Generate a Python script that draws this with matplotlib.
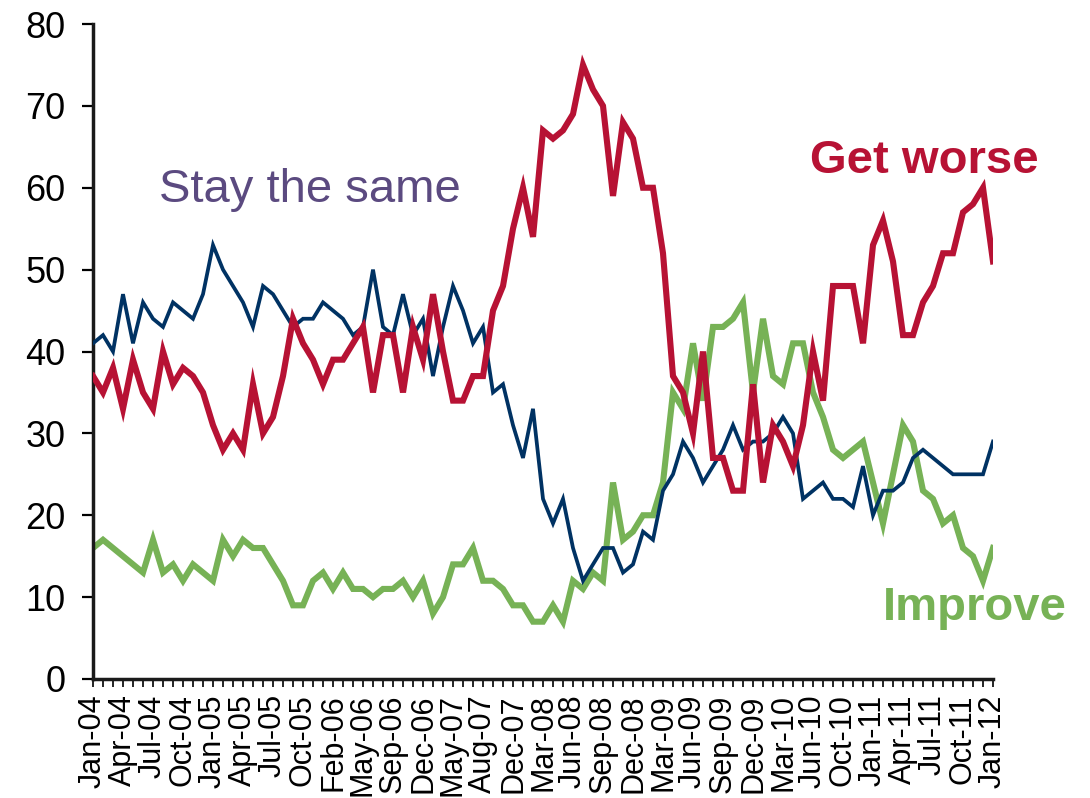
import numpy as np
import matplotlib
matplotlib.use("Agg")
import matplotlib.pyplot as plt
from matplotlib.ticker import FixedLocator, MultipleLocator

plt.rcParams['font.family'] = ['Liberation Sans', 'DejaVu Sans']

tick_labels = ["Jan-04", "Apr-04", "Jul-04", "Oct-04", "Jan-05", "Apr-05", "Jul-05",
               "Oct-05", "Feb-06", "May-06", "Sep-06", "Dec-06", "May-07", "Aug-07",
               "Dec-07", "Mar-08", "Jun-08", "Sep-08", "Dec-08", "Mar-09", "Jun-09",
               "Sep-09", "Dec-09", "Mar-10", "Jun-10", "Oct-10", "Jan-11", "Apr-11",
               "Jul-11", "Oct-11", "Jan-12"]

stay_the_same = [41, 42, 40, 47, 41, 46, 44, 43, 46, 45, 44, 47, 53, 50, 48, 46, 43, 48, 47, 45,
                 43, 44, 44, 46, 45, 44, 42, 43, 50, 43, 42, 47, 42, 44, 37, 43, 48, 45, 41, 43,
                 35, 36, 31, 27, 33, 22, 19, 22, 16, 12, 14, 16, 16, 13, 14, 18, 17, 23, 25, 29,
                 27, 24, 26, 28, 31, 28, 29, 29, 30, 32, 30, 22, 23, 24, 22, 22, 21, 26, 20, 23,
                 23, 24, 27, 28, 27, 26, 25, 25, 25, 25, 29]

get_worse = [37, 35, 38, 33, 39, 35, 33, 40, 36, 38, 37, 35, 31, 28, 30, 28, 36, 30, 32, 37,
             44, 41, 39, 36, 39, 39, 41, 43, 35, 42, 42, 35, 43, 39, 47, 40, 34, 34, 37, 37,
             45, 48, 55, 60, 54, 67, 66, 67, 69, 75, 72, 70, 59, 68, 66, 60, 60, 52, 37, 35,
             30, 40, 27, 27, 23, 23, 36, 24, 31, 29, 26, 31, 40, 34, 48, 48, 48, 41, 53, 56,
             51, 42, 42, 46, 48, 52, 52, 57, 58, 60, 51]

improve = [16, 17, 16, 15, 14, 13, 17, 13, 14, 12, 14, 13, 12, 17, 15, 17, 16, 16, 14, 12,
           9, 9, 12, 13, 11, 13, 11, 11, 10, 11, 11, 12, 10, 12, 8, 10, 14, 14, 16, 12,
           12, 11, 9, 9, 7, 7, 9, 7, 12, 11, 13, 12, 24, 17, 18, 20, 20, 24, 35, 33,
           41, 34, 43, 43, 44, 46, 35, 44, 37, 36, 41, 41, 35, 32, 28, 27, 28, 29, 24, 19,
           25, 31, 29, 23, 22, 19, 20, 16, 15, 12, 16]

c_blue = "#003263"
c_red = "#B71234"
c_green = "#77B256"
c_purple = "#5B4A80"

fig = plt.figure(figsize=(10.9, 7.98), dpi=100)
ax = fig.add_axes([93 / 1090, 1 - 679 / 798, 900 / 1090, 655 / 798])

x = np.arange(len(stay_the_same))
ax.plot(x, improve, color=c_green, lw=4.4, solid_joinstyle='miter', zorder=2)
ax.plot(x, stay_the_same, color=c_blue, lw=2.7, solid_joinstyle='miter', zorder=3)
ax.plot(x, get_worse, color=c_red, lw=4.4, solid_joinstyle='miter', zorder=4)

ax.set_xlim(0, len(x) - 1)
ax.set_ylim(0, 80)
ax.yaxis.set_major_locator(MultipleLocator(10))
ax.set_xticks(x[::3])
ax.set_xticklabels(tick_labels, rotation=90, fontsize=22, va='top')
ax.xaxis.set_minor_locator(FixedLocator(x))
ax.tick_params(axis='y', labelsize=26, direction='out', length=8, width=1.6, pad=12)
ax.tick_params(axis='x', which='both', direction='out', length=6, width=1.2, pad=5)

for side in ['top', 'right']:
    ax.spines[side].set_visible(False)
for side in ['left', 'bottom']:
    ax.spines[side].set_linewidth(2.5)
    ax.spines[side].set_color('#1a1a1a')

fig.text(310 / 1090, 1 - 190 / 798, "Stay the same", color=c_purple, fontsize=34,
         ha='center', va='center')
fig.text(924 / 1090, 1 - 161 / 798, "Get worse", color=c_red, fontsize=34,
         fontweight='bold', ha='center', va='center')
fig.text(975 / 1090, 1 - 608 / 798, "Improve", color=c_green, fontsize=34,
         fontweight='bold', ha='center', va='center')

fig.savefig("out.png", dpi=100)
